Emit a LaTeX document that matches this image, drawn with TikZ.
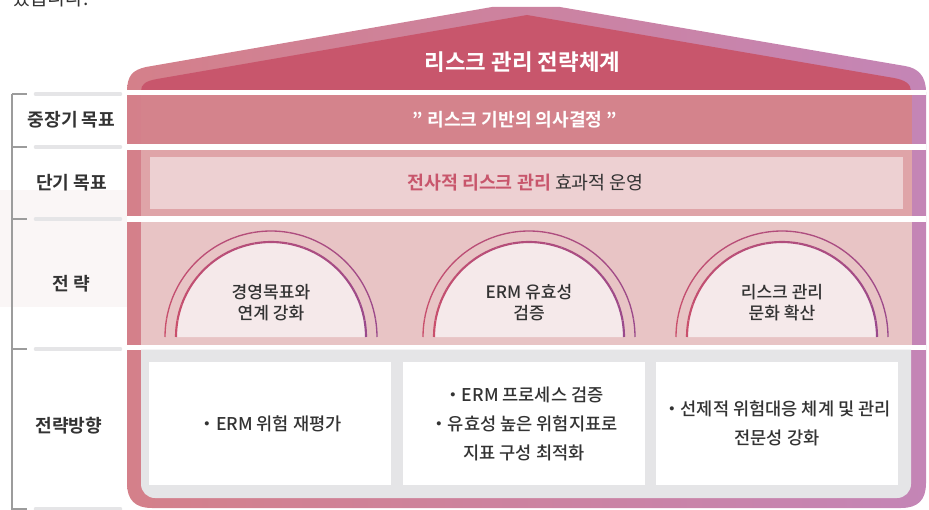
\documentclass[tikz,border=0pt]{standalone}
\usepackage{fontspec}
\setmainfont{Noto Sans CJK KR}[BoldFont=* Bold]
\newfontfamily\midfont{Noto Sans CJK KR}[UprightFont=* Medium]

\definecolor{houseL}{HTML}{D4808A}
\definecolor{houseR}{HTML}{C485B6}
\definecolor{roofred}{HTML}{C8566C}
\definecolor{goalrow}{HTML}{D4838C}
\definecolor{shortrow}{HTML}{DFA4A8}
\definecolor{shortbox}{HTML}{EDD0D2}
\definecolor{stratrow}{HTML}{E8C4C5}
\definecolor{archfill}{HTML}{F5E9EA}
\definecolor{archred}{HTML}{C9506C}
\definecolor{archpurple}{HTML}{9A4A8C}
\definecolor{panelgray}{HTML}{E5E5E7}
\definecolor{textdark}{HTML}{333333}
\definecolor{bracketgray}{HTML}{9C9C9C}
\definecolor{labelbg}{HTML}{FAF6F6}

\begin{document}
\begin{tikzpicture}[
  x=0.75pt, y=-0.75pt,
  rowlabel/.style={font={\bfseries\fontsize{13.6}{16}\selectfont}, text=textdark, inner sep=0pt},
  bandtext/.style={font={\bfseries\fontsize{13.6}{16}\selectfont}, text=white, inner sep=0pt},
  archtext/.style={font={\midfont\fontsize{12.8}{15.75}\selectfont}, text=textdark, align=center, inner sep=0pt},
  dirbox/.style={fill=white, minimum width=181.5pt, minimum height=92.25pt, inner sep=0pt,
    font={\midfont\fontsize{13.2}{21.75}\selectfont}, text=textdark, align=center},
  tickbar/.style={panelgray, line width=3.5pt, line cap=round},
  tick/.style={bracketgray, line width=1.5pt}
]
\useasboundingbox (0,0) rectangle (929,510);

\node[font={\fontsize{14.5}{17}\selectfont}, text=textdark, anchor=base west, inner sep=0pt] (topnote) at (12,6) {었습니다.};

% left bracket
\fill[labelbg] (0,190) rectangle (127,307);
\draw[tick] (12,94) -- (12,512);
\foreach \y in {94,147,219,349,509} {
  \draw[tick] (12,\y) -- (27,\y);
  \draw[tickbar] (36,\y) -- (120,\y);
}
\node[rowlabel] (lblgoal) at (71.5,120) {중장기 목표};
\node[rowlabel] (lblshort) at (71.5,182.5) {단기 목표};
\node[rowlabel] (lblstrat) at (71,284) {전 략};
\node[rowlabel] (lbldir) at (69,426) {전략방향};

% house
\shade[left color=houseL, right color=houseR]
  (127,92) -- (127,483) .. controls (127,500) and (135,508) .. (152,508)
  -- (901,508) .. controls (918,508) and (926,500) .. (926,483)
  -- (926,92) .. controls (926,76) and (918,68) .. (905,66)
  -- (560,7) -- (492,7) -- (146,67) .. controls (133,70) and (127,75) .. (127,92) -- cycle;
\fill[roofred] (141,91) .. controls (141,84) and (146,81) .. (157,79) -- (527,15)
  -- (894,78) .. controls (905,80) and (911,84) .. (911,91) -- cycle;

\fill[white] (127,90.5) rectangle (926,95);
\fill[goalrow] (141,95) rectangle (912,144.5);
\fill[white] (127,144.5) rectangle (926,150);
\fill[shortrow] (141,150) rectangle (912,216);
\fill[shortbox] (150,157) rectangle (903,209);
\fill[white] (127,216) rectangle (926,221.5);
\fill[stratrow] (141,221.5) rectangle (912,345);
\fill[white] (127,345) rectangle (926,349.5);
\fill[panelgray, rounded corners=10.5pt] (141,349.5) -- (141,498) -- (911,498) -- (911,349.5);

\node[bandtext, font={\bfseries\fontsize{16.8}{20}\selectfont}] (title) at (522.5,62.5) {리스크 관리 전략체계};
\node[bandtext] (goal) at (515,120) {\symbol{"22} 리스크 기반의 의사결정 \symbol{"22}};
\node[inner sep=0pt, text=textdark, font={\fontsize{13.8}{16}\selectfont}] (short) at (525.5,183)
  {{\bfseries\color{roofred}전사적 리스크 관리} 효과적 운영};

% arches
\foreach \cx/\name/\txt in {271/archa/{경영목표와\\연계 강화}, 529/archb/{ERM 유효성\\검증}, 782/archc/{리스크 관리\\문화 확산}} {
  \fill[archfill] (\cx-95,337) arc[start angle=180, end angle=0, radius=71.25pt] -- cycle;
  \foreach \k in {0,...,17} {
    \pgfmathtruncatemacro\mix{100-\k*100/17}
    \draw[archred!\mix!archpurple, line width=1pt]
      ([shift={(180-\k*10:79.5pt)}]\cx,337) arc[start angle=180-\k*10, end angle=170-\k*10, radius=79.5pt];
    \draw[archred!\mix!archpurple, line width=1.6pt]
      ([shift={(180-\k*10:71.25pt)}]\cx,337) arc[start angle=180-\k*10, end angle=170-\k*10, radius=71.25pt];
  }
  \node[archtext] (\name) at (\cx,302.5) {\txt};
}

% strategic directions
\node[dirbox] (dira) at (270,423.5) {・ERM 위험 재평가};
\node[dirbox] (dirb) at (524,423.5) {・ERM 프로세스 검증\\・유효성 높은 위험지표로\\지표 구성 최적화};
\node[dirbox] (dirc) at (777,423.5) {・선제적 위험대응 체계 및 관리\\전문성 강화};
\end{tikzpicture}
\end{document}
